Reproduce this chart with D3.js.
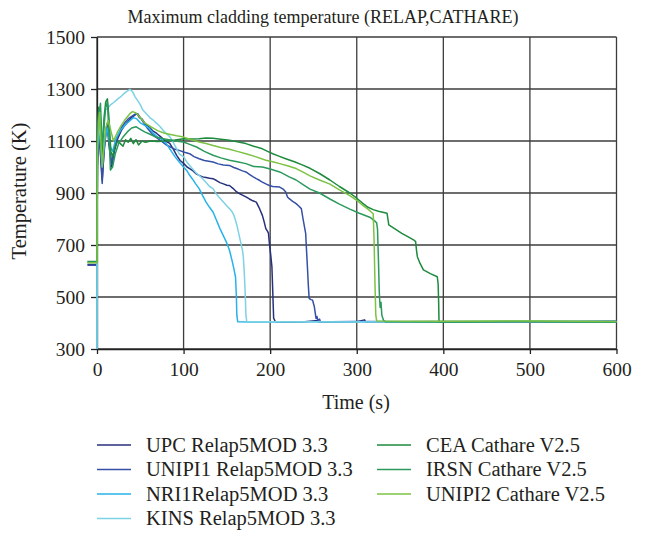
<!DOCTYPE html>
<html>
<head>
<meta charset="utf-8">
<script src="https://cdn.jsdelivr.net/npm/d3@7"></script>
<style>
  body { margin: 0; background: #fff; }
  svg text { font-family: "Liberation Serif", "Times New Roman", serif; fill: #231f20; }
</style>
</head>
<body>
<svg id="chart" width="645" height="537"></svg>
<script>
// Maximum cladding temperature (K) against time (s), one [time, temperature] list per code run
const upc = [[-11,625],[0,625],[0.5,1000],[2,1120],[4,1060],[6,950],[8,1050],[10,1120],[12,1150],[14,1080],[17,1000],[20,1060],[24,1110],[28,1140],[32,1160],[36,1175],[40,1190],[44,1200],[46,1206],[49,1190],[52,1185],[56,1165],[60,1155],[64,1140],[69,1129],[74,1115],[79,1100],[84,1091],[88,1070],[92,1045],[96,1025],[100,1014],[104,1000],[107,994],[111,985],[114,975],[118,968],[122,962],[126,960],[130,957],[134,955],[138,948],[142,940],[146,935],[150,930],[153,929],[157,918],[161,905],[165,897],[168,892],[172,885],[176,877],[180,870],[184,865],[187,845],[189,830],[191,814],[193,790],[195,763],[197,752],[198,746],[199,710],[200,681],[201,650],[202,617],[203,520],[204,419],[206,405],[215,404],[240,405],[255,410],[256,404],[300,405],[309,412],[310,404],[400,406],[500,405],[600,407]];
const unipi1 = [[-11,622],[0,622],[0.5,1080],[2,1170],[4,1050],[6,937],[8,1060],[10,1130],[12,1170],[14,1100],[17,1010],[20,1070],[24,1120],[28,1150],[32,1170],[36,1185],[40,1195],[44,1203],[47,1205],[50,1190],[54,1170],[58,1150],[63,1130],[68,1115],[74,1100],[80,1085],[86,1075],[90,1068],[95,1064],[100,1058],[104,1054],[107,1051],[112,1040],[118,1032],[124,1025],[129,1022],[134,1019],[140,1012],[146,1008],[153,1006],[158,998],[163,992],[168,985],[172,981],[176,972],[180,963],[184,955],[188,948],[191,942],[195,935],[199,929],[203,925],[207,924],[211,923],[215,915],[218,904],[220,885],[222,878],[226,868],[230,859],[233,850],[236,840],[238,800],[240,763],[241,745],[242,680],[243,617],[244,550],[245,495],[247,490],[249,488],[250,475],[251,463],[252,440],[253,418],[254,425],[255,410],[257,415],[258,405],[270,405],[300,406],[400,405],[500,404],[600,406]];
const nri1 = [[0,300],[0.3,1050],[2,1150],[4,1090],[6,1000],[9,1100],[12,1150],[15,1080],[18,1060],[22,1110],[27,1140],[32,1160],[37,1175],[42,1190],[46,1185],[50,1170],[55,1160],[60,1150],[65,1130],[70,1115],[75,1105],[80,1090],[85,1065],[90,1040],[95,1019],[100,1000],[104,985],[107,968],[110,955],[114,935],[118,917],[122,890],[126,865],[130,845],[134,827],[138,795],[142,763],[146,735],[150,707],[153,680],[156,640],[158,610],[160,577],[161,500],[161.5,430],[162.5,405],[180,404],[250,405],[400,405],[600,406]];
const kins = [[0,300],[0.3,1080],[2,1160],[4,1120],[6,1100],[9,1219],[12,1225],[16,1240],[20,1250],[24,1262],[28,1272],[32,1285],[35,1292],[38,1299],[41,1290],[44,1270],[47,1255],[50,1240],[53,1219],[57,1205],[61,1190],[65,1180],[69,1168],[73,1155],[78,1135],[84,1117],[88,1095],[92,1070],[95,1050],[100,1040],[104,1018],[107,1006],[111,990],[115,975],[118,968],[122,955],[126,940],[130,925],[134,917],[138,895],[142,880],[146,865],[150,850],[153,840],[156,828],[158,815],[160,795],[162,770],[164,740],[166,710],[168,680],[169,654],[170,600],[171,530],[172,430],[173,405],[200,405],[300,404],[450,405],[600,405]];
const cea = [[-11,637],[0,637],[0.5,1150],[2,1230],[4,1160],[6,1020],[8,1180],[10,1250],[12,1262],[14,1180],[16,1060],[18,1040],[21,1080],[24,1100],[27,1090],[30,1080],[33,1105],[36,1095],[39,1110],[42,1090],[45,1105],[48,1085],[52,1100],[56,1095],[62,1100],[70,1098],[80,1100],[90,1104],[100,1109],[110,1108],[118,1109],[126,1112],[134,1111],[143,1107],[153,1103],[162,1097],[172,1090],[181,1080],[191,1070],[197,1060],[203,1051],[210,1042],[218,1032],[228,1020],[237,1008],[246,995],[257,975],[269,950],[280,925],[292,900],[300,880],[307,860],[313,845],[319,836],[325,830],[330,826],[335,822],[336,800],[337,777],[345,760],[352,745],[360,730],[366,719],[368,713],[369,680],[370,655],[373,630],[377,604],[385,590],[393,578],[394,550],[394.6,480],[395,405],[420,405],[500,406],[600,404]];
const irsn = [[-11,635],[0,635],[0.5,1100],[2,1200],[4,1245],[6,1080],[8,1150],[10,1230],[12,1250],[14,1120],[15.5,988],[18,1000],[21,1050],[25,1090],[30,1115],[35,1135],[40,1150],[45,1155],[50,1145],[55,1135],[60,1128],[68,1115],[75,1110],[83,1105],[90,1100],[100,1096],[107,1087],[115,1077],[124,1060],[134,1045],[143,1035],[153,1026],[162,1020],[172,1013],[181,1002],[191,1000],[200,992],[211,981],[222,962],[230,950],[238,932],[246,915],[257,900],[269,877],[280,857],[292,838],[303,822],[315,807],[320,795],[323,785],[324,760],[325,650],[326,520],[327,460],[328,480],[329,430],[331,410],[333,405],[400,404],[500,406],[600,405]];
const unipi2 = [[-11,632],[0,632],[0.5,1050],[2,1180],[3,1210],[5,1060],[6,1000],[8,1090],[10,1150],[13,1180],[16,1140],[19,1100],[23,1130],[28,1160],[33,1185],[38,1205],[41,1213],[45,1208],[50,1190],[55,1170],[62,1155],[70,1140],[78,1130],[85,1125],[92,1120],[100,1115],[109,1105],[118,1096],[126,1090],[134,1083],[143,1075],[153,1068],[162,1060],[172,1051],[183,1040],[195,1026],[203,1020],[211,1013],[220,1005],[230,994],[238,980],[246,966],[257,950],[269,934],[280,912],[292,890],[300,872],[307,852],[313,838],[317,826],[319,820],[320,720],[321,560],[322,430],[323,408],[400,407],[500,408],[600,406]];

const seriesNames = ["UPC Relap5MOD 3.3", "UNIPI1 Relap5MOD 3.3", "NRI1Relap5MOD 3.3", "KINS Relap5MOD 3.3",
                     "CEA Cathare V2.5", "IRSN Cathare V2.5", "UNIPI2 Cathare V2.5"];
const seriesValues = [upc, unipi1, nri1, kins, cea, irsn, unipi2];
const xTicks = [0, 100, 200, 300, 400, 500, 600];
const yTicks = [300, 500, 700, 900, 1100, 1300, 1500];

// line colours, in series order
const colors = ["#27307d", "#3550a6", "#27b3ea", "#7dd2e4", "#1d8a3d", "#2a9a5c", "#7cc243"];

const svg = d3.select("#chart");
const plot = { left: 97, right: 616.5, top: 37, bottom: 349 };

const x = d3.scaleLinear().domain([0, 600]).range([plot.left, plot.right]);
const y = d3.scaleLinear().domain([300, 1500]).range([plot.bottom, plot.top]);

// grid
const grid = svg.append("g").attr("stroke", "#3d3d3d").attr("stroke-width", 1.3);
grid.selectAll(".gx").data(xTicks).join("line")
  .attr("x1", d => x(d)).attr("x2", d => x(d))
  .attr("y1", plot.top).attr("y2", plot.bottom);
grid.selectAll(".gy").data(yTicks).join("line")
  .attr("x1", plot.left).attr("x2", plot.right)
  .attr("y1", d => y(d)).attr("y2", d => y(d));

// axes
const tickFont = 19.5;
const xAxis = svg.append("g").attr("transform", `translate(0,${plot.bottom})`)
  .call(d3.axisBottom(x).tickValues(xTicks).tickFormat(d3.format("d"))
    .tickSize(5).tickSizeOuter(0).tickPadding(8));
const yAxis = svg.append("g").attr("transform", `translate(${plot.left},0)`)
  .call(d3.axisLeft(y).tickValues(yTicks).tickFormat(d3.format("d"))
    .tickSize(6).tickSizeOuter(0).tickPadding(6));
[xAxis, yAxis].forEach(a => {
  a.select(".domain").attr("stroke", "#222").attr("stroke-width", 1.3);
  a.selectAll(".tick line").attr("stroke", "#222").attr("stroke-width", 1.3);
  a.selectAll(".tick text").attr("font-size", tickFont)
    .attr("font-family", "Liberation Serif, serif").attr("fill", "#231f20");
});

// curves
const line = d3.line().x(d => x(d[0])).y(d => y(d[1]));
svg.append("g").selectAll("path").data(seriesValues).join("path")
  .attr("d", line)
  .attr("fill", "none")
  .attr("stroke", (d, i) => colors[i])
  .attr("stroke-width", 1.5)
  .attr("stroke-linejoin", "round");

// titles
svg.append("text").attr("x", 323).attr("y", 23).attr("text-anchor", "middle")
  .attr("font-size", 18).text("Maximum cladding temperature (RELAP,CATHARE)");
svg.append("text").attr("x", 356).attr("y", 409).attr("text-anchor", "middle")
  .attr("font-size", 20).text("Time (s)");
svg.append("text").attr("transform", `translate(26,${(plot.top + plot.bottom) / 2 - 2}) rotate(-90)`)
  .attr("text-anchor", "middle").attr("font-size", 20.5).text("Temperature (K)");

// legend: Relap5 runs on the left, Cathare runs on the right
const legend = svg.append("g");
const rows = seriesNames.map((name, i) => ({
  name, color: colors[i],
  col: i < 4 ? 0 : 1,
  row: i < 4 ? i : i - 4
}));
const colX = [97, 377];
const rowY = [445, 469.5, 494, 518.5];
const item = legend.selectAll("g").data(rows).join("g")
  .attr("transform", d => `translate(${colX[d.col]},${rowY[d.row]})`);
item.append("line").attr("x1", 0).attr("x2", 34).attr("y1", 0).attr("y2", 0)
  .attr("stroke", d => d.color).attr("stroke-width", 1.6);
item.append("text").attr("x", 49).attr("y", 6.5).attr("font-size", 20.5).text(d => d.name);
</script>
</body>
</html>
